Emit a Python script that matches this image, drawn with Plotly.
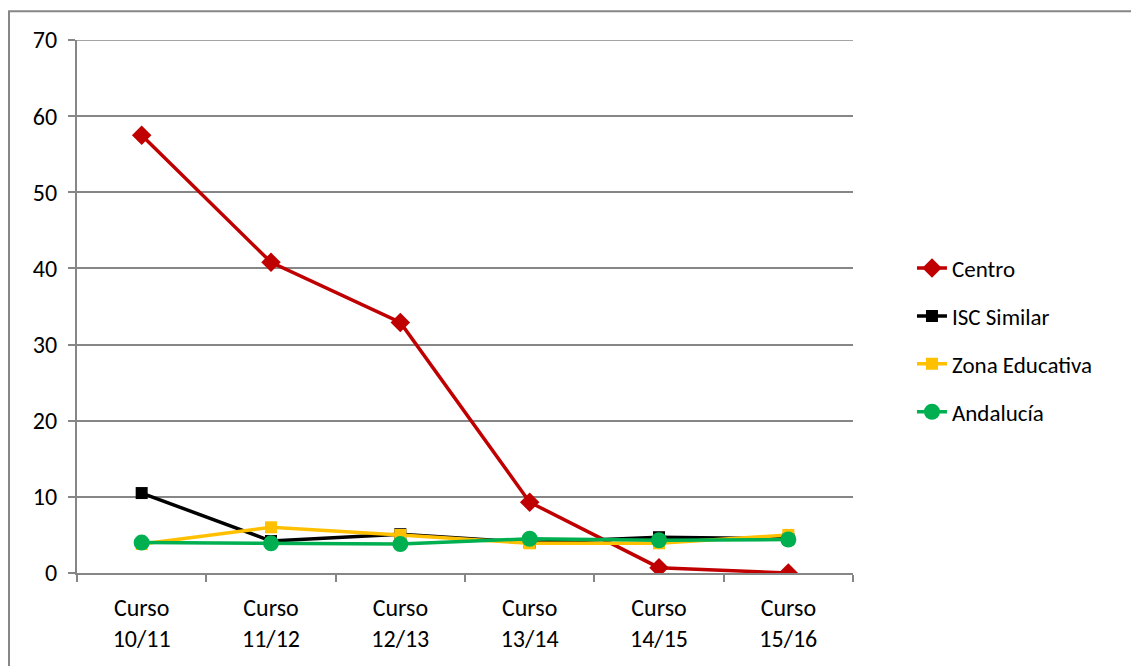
import plotly.graph_objects as go

cursos = ["Curso<br>10/11", "Curso<br>11/12", "Curso<br>12/13",
          "Curso<br>13/14", "Curso<br>14/15", "Curso<br>15/16"]

centro = [57.5, 40.8, 32.9, 9.3, 0.7, 0.0]
isc_similar = [10.5, 4.2, 5.1, 4.0, 4.7, 4.5]
zona_educativa = [3.8, 6.0, 5.0, 3.9, 3.9, 5.0]
andalucia = [4.0, 3.9, 3.8, 4.5, 4.3, 4.4]

y_ticks = [0, 10, 20, 30, 40, 50, 60, 70]

series = [
    ("Centro", centro, "#C00000", "diamond", 15),
    ("ISC Similar", isc_similar, "#000000", "square", 12),
    ("Zona Educativa", zona_educativa, "#FFC000", "square", 12),
    ("Andalucía", andalucia, "#00B050", "circle", 16),
]

font_family = "Carlito, Calibri, Lato, sans-serif"
axis_grey = "#868686"

fig = go.Figure()
for name, values, color, symbol, size in series:
    fig.add_trace(go.Scatter(
        x=cursos, y=values, name=name, mode="lines+markers",
        legendgroup=name,
        line=dict(color=color, width=3.5),
        marker=dict(symbol=symbol, size=size, color=color),
    ))

# Outer chart-area frame (left and top edges visible)
fig.add_shape(type="rect", xref="paper", yref="paper",
              x0=-0.0876, x1=1.36, y0=-0.3, y1=1.054,
              line=dict(color=axis_grey, width=2), fillcolor="rgba(0,0,0,0)",
              layer="below")

# Top gridline at the axis maximum
fig.add_shape(type="line", xref="paper", yref="y",
              x0=0, x1=1, y0=y_ticks[-1], y1=y_ticks[-1],
              line=dict(color=axis_grey, width=1.5), layer="below")

fig.update_layout(
    width=1131, height=666,
    margin=dict(l=77, r=278, t=40, b=93),
    paper_bgcolor="white", plot_bgcolor="white",
    font=dict(family=font_family, size=24, color="#000000"),
    showlegend=True,
    legend=dict(x=1.076, y=0.437, xanchor="left", yanchor="middle",
                font=dict(size=23), tracegroupgap=15, itemsizing="trace",
                bgcolor="rgba(0,0,0,0)"),
    xaxis=dict(
        range=[-0.5, 5.5],
        showline=True, linecolor=axis_grey, linewidth=2,
        ticks="outside", tickson="boundaries", ticklen=7, tickcolor=axis_grey,
        tickwidth=2, showgrid=False, tickfont=dict(size=24),
        ticklabelstandoff=12,
    ),
    yaxis=dict(
        range=[0, 70], tickvals=y_ticks,
        showline=True, linecolor=axis_grey, linewidth=2,
        ticks="outside", ticklen=7, tickcolor=axis_grey, tickwidth=2,
        showgrid=True, gridcolor=axis_grey, gridwidth=1.5,
        zeroline=False, tickfont=dict(size=24), ticklabelstandoff=6,
    ),
)

fig.write_html("out.html")
